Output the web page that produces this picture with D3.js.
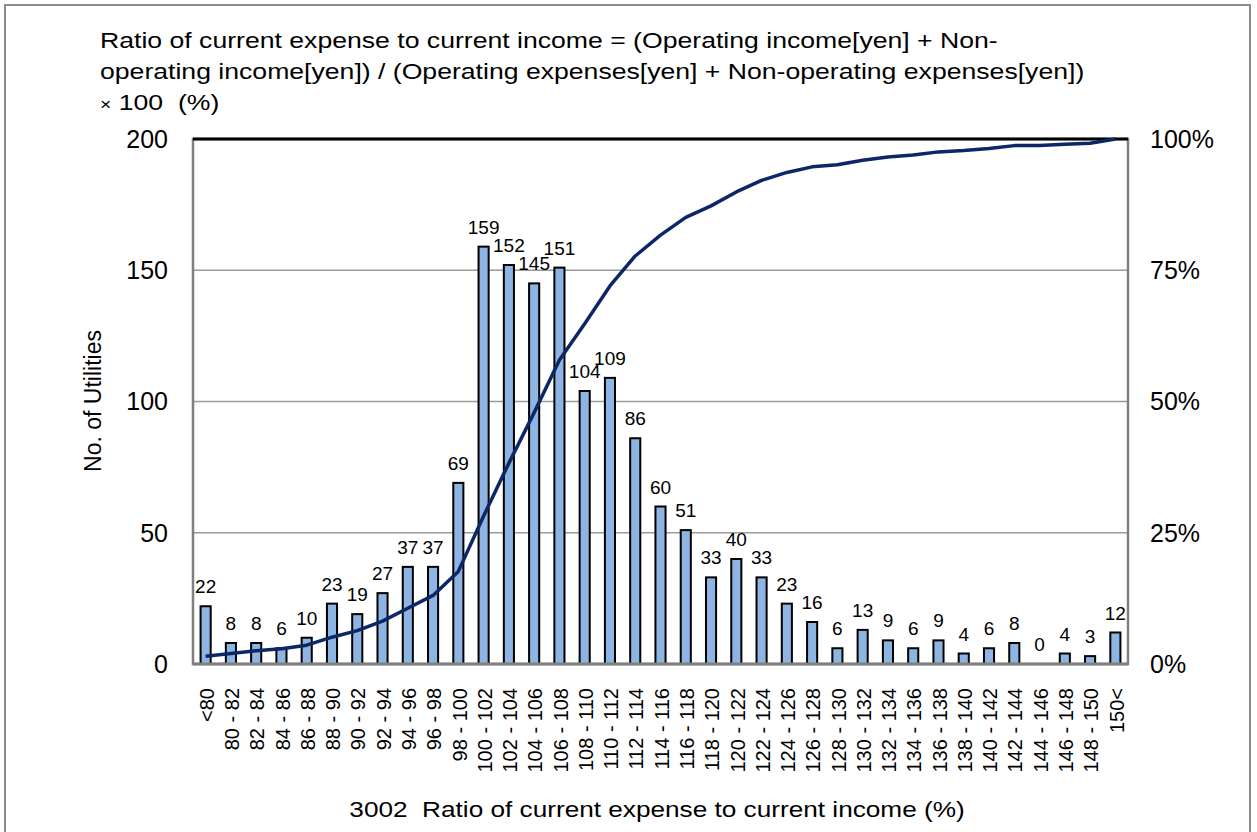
<!DOCTYPE html>
<html>
<head>
<meta charset="utf-8">
<script src="https://cdn.jsdelivr.net/npm/d3@7"></script>
<style>
  body { margin: 0; background: #fff; }
  text { font-family: Arial, "Liberation Sans", sans-serif; fill: #000; }
</style>
</head>
<body>
<svg width="1257" height="832"></svg>
<script>
var categories = ["<80", "80 - 82", "82 - 84", "84 - 86", "86 - 88", "88 - 90", "90 - 92", "92 - 94",
  "94 - 96", "96 - 98", "98 - 100", "100 - 102", "102 - 104", "104 - 106", "106 - 108", "108 - 110",
  "110 - 112", "112 - 114", "114 - 116", "116 - 118", "118 - 120", "120 - 122", "122 - 124", "124 - 126",
  "126 - 128", "128 - 130", "130 - 132", "132 - 134", "134 - 136", "136 - 138", "138 - 140", "140 - 142",
  "142 - 144", "144 - 146", "146 - 148", "148 - 150", "150<"];

var counts = [22, 8, 8, 6, 10, 23, 19, 27, 37, 37, 69, 159, 152, 145, 151, 104, 109, 86, 60, 51,
  33, 40, 33, 23, 16, 6, 13, 9, 6, 9, 4, 6, 8, 0, 4, 3, 12];

var leftTicks = [0, 50, 100, 150, 200];
var rightTicks = [0, 0.25, 0.5, 0.75, 1];

var titleLines = [
  "Ratio of current expense to current income = (Operating income[yen] + Non-",
  "operating income[yen]) / (Operating expenses[yen] + Non-operating expenses[yen])"
];

// cumulative share of utilities, from the counts
var total = d3.sum(counts),
    cumShare = Array.from(d3.cumsum(counts), function(c) { return c / total; });

var svg = d3.select("svg"),
    plotL = 193, plotR = 1128, plotT = 139, plotB = 664;

var x = d3.scaleBand().domain(categories).range([plotL, plotR]).paddingInner(0.6).paddingOuter(0.3);
var y = d3.scaleLinear().domain([0, 200]).range([plotB, plotT]);
var y2 = d3.scaleLinear().domain([0, 1]).range([plotB, plotT]);

// outer frame
svg.append("rect")
    .attr("x", 5).attr("y", 5).attr("width", 1245).attr("height", 840)
    .attr("fill", "none").attr("stroke", "#8c8c8c").attr("stroke-width", 2);

// title (the original font is wider than Arial, so stretch it)
var title = svg.append("g");
title.selectAll("text.t").data(titleLines).enter().append("text")
    .attr("class", "t")
    .attr("transform", function(d, i) { return "translate(100," + (48 + i * 31) + ") scale(1.21,1)"; })
    .style("font-size", "22px")
    .text(function(d) { return d; });
var t3 = title.append("text")
    .attr("transform", "translate(100,110) scale(1.21,1)")
    .style("font-size", "22px");
t3.append("tspan").style("font-size", "16px").text("\u00d7");
t3.append("tspan").text(" 100\u00a0\u00a0(%)");

// grid lines
svg.append("g").selectAll("line").data([50, 100, 150]).enter().append("line")
    .attr("x1", plotL).attr("x2", plotR)
    .attr("y1", function(d) { return y(d); }).attr("y2", function(d) { return y(d); })
    .attr("stroke", "#9a9a9a").attr("stroke-width", 1.5);

// plot frame
svg.append("rect")
    .attr("x", plotL).attr("y", plotT).attr("width", plotR - plotL).attr("height", plotB - plotT)
    .attr("fill", "none").attr("stroke", "#808080").attr("stroke-width", 2.5);
svg.append("line")
    .attr("x1", plotL).attr("x2", plotR).attr("y1", plotT).attr("y2", plotT)
    .attr("stroke", "#000").attr("stroke-width", 3);

// bars
svg.append("g").selectAll("rect").data(counts).enter().append("rect")
    .attr("x", function(d, i) { return x(categories[i]); })
    .attr("y", function(d) { return y(d); })
    .attr("width", x.bandwidth())
    .attr("height", function(d) { return plotB - y(d); })
    .attr("fill", "#8db4e2")
    .attr("stroke", "#000")
    .attr("stroke-width", 2);

// bottom axis line
svg.append("line")
    .attr("x1", plotL).attr("x2", plotR).attr("y1", plotB).attr("y2", plotB)
    .attr("stroke", "#808080").attr("stroke-width", 3);

// bar value labels
svg.append("g").selectAll("text").data(counts).enter().append("text")
    .attr("x", function(d, i) { return x(categories[i]) + x.bandwidth() / 2; })
    .attr("y", function(d) { return y(d) - 13; })
    .attr("text-anchor", "middle")
    .style("font-size", "19px")
    .text(function(d) { return d; });

// cumulative line
var line = d3.line()
    .x(function(d, i) { return x(categories[i]) + x.bandwidth() / 2; })
    .y(function(d) { return y2(d); });
svg.append("path")
    .datum(cumShare)
    .attr("d", line)
    .attr("fill", "none")
    .attr("stroke", "#0c2766")
    .attr("stroke-width", 3.5)
    .attr("stroke-linejoin", "round");

// left ticks
svg.append("g").selectAll("text").data(leftTicks).enter().append("text")
    .attr("x", 168)
    .attr("y", function(d) { return y(d); })
    .attr("dy", "0.35em")
    .attr("text-anchor", "end")
    .style("font-size", "25px")
    .text(function(d) { return d; });

// right ticks
svg.append("g").selectAll("text").data(rightTicks).enter().append("text")
    .attr("x", 1150)
    .attr("y", function(d) { return y2(d); })
    .attr("dy", "0.35em")
    .style("font-size", "25px")
    .text(d3.format(".0%"));

// category labels
svg.append("g").selectAll("text").data(categories).enter().append("text")
    .attr("transform", function(d) {
      return "translate(" + (x(d) + x.bandwidth() / 2 + 1) + ",688) rotate(-90)";
    })
    .attr("dy", "0.36em")
    .attr("text-anchor", "end")
    .style("font-size", "20px")
    .text(function(d) { return d; });

// axis titles
svg.append("text")
    .attr("transform", "translate(101,401) rotate(-90)")
    .attr("text-anchor", "middle")
    .style("font-size", "23px")
    .text("No. of Utilities");

svg.append("text")
    .attr("transform", "translate(657,817) scale(1.19,1)")
    .attr("text-anchor", "middle")
    .style("font-size", "22px")
    .text("3002\u00a0\u00a0Ratio of current expense to current income (%)");
</script>
</body>
</html>
